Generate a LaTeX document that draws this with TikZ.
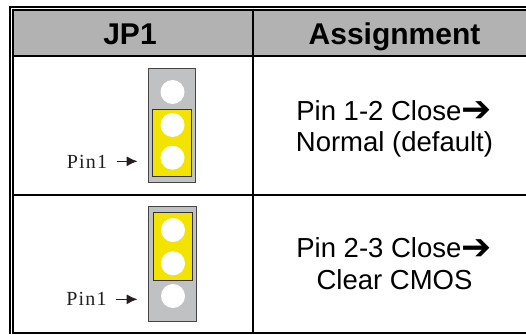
\documentclass[tikz,border=0pt]{standalone}
\usepackage{fontspec}
\usetikzlibrary{arrows.meta}
\setmainfont{Liberation Sans}
\newfontfamily\serifpin[LetterSpace=6]{Liberation Serif}
\newfontfamily\symfont{DejaVu Sans}
\newcommand{\heavyarrow}{{\symfont\bfseries\fontsize{36}{36}\selectfont\raisebox{-1.5pt}{➔}}}
\definecolor{hdr}{RGB}{178,178,178}
\definecolor{plate}{RGB}{192,193,195}
\definecolor{jump}{RGB}{242,228,0}
\definecolor{edge}{RGB}{70,70,70}
\definecolor{txt}{RGB}{35,31,32}
\tikzset{
  px/.style={x=1pt,y=-1pt},
  rule/.style={line width=2pt,black},
  hdrtext/.style={font=\fontsize{30}{34}\selectfont\bfseries,text=black,inner sep=0pt,anchor=base},
  bodytext/.style={font=\fontsize{27.5}{32}\selectfont,text=black,inner sep=0pt,anchor=base},
  pintext/.style={font=\serifpin\fontsize{20}{24}\selectfont,text=txt,inner sep=0pt,anchor=base},
  plateb/.style={draw=edge,line width=0.8pt,fill=plate},
  jumpb/.style={draw=black!80,line width=0.7pt,fill=jump},
  hole/.style={circle,fill=white,minimum size=24pt,inner sep=0pt},
  pinarrow/.style={-{Latex[length=11pt,width=10pt]},line width=1.6pt,txt}
}
\begin{document}
\begin{tikzpicture}[px]
\useasboundingbox (0,0) rectangle (526,334);
\fill[white] (0,0) rectangle (526,334);
\fill[hdr] (13,10) rectangle (526,55);
\draw[rule] (8.5,7) -- (526,7);
\draw[rule] (13,10) -- (526,10);
\draw[rule] (13,56) -- (526,56);
\draw[rule] (13,195) -- (526,195);
\draw[rule] (13,333) -- (526,333);
\draw[rule] (9.5,6) -- (9.5,334);
\draw[rule] (13,9) -- (13,334);
\draw[rule] (253,10) -- (253,334);
\node[hdrtext] (h1) at (130,45) {JP1};
\node[hdrtext] (h2) at (394.5,45) {Assignment};
\node[bodytext] (a1) at (394,120) {Pin 1-2 Close\heavyarrow};
\node[bodytext] (a2) at (394.5,151.7) {Normal (default)};
\node[bodytext] (b1) at (394,257.5) {Pin 2-3 Close\heavyarrow};
\node[bodytext] (b2) at (394.5,289.5) {Clear CMOS};
% top jumper
\draw[plateb] (148.5,68) rectangle (195.5,182.5);
\draw[jumpb] (152.7,109) rectangle (191,176.7);
\node[hole] (t1) at (172.5,92) {};
\node[hole] (t2) at (172.5,125) {};
\node[hole] (t3) at (172.5,157.7) {};
\node[pintext] (p1) at (87,168.3) {Pin1};
\coordinate (p1a) at (116.7,161.3);
\coordinate (p1b) at (137.7,161.3);
\draw[pinarrow] (p1a) -- (p1b);
% bottom jumper
\draw[plateb] (148.7,206) rectangle (196.7,321.7);
\draw[jumpb] (153.3,212.3) rectangle (192.3,280.7);
\node[hole] (u1) at (173,230) {};
\node[hole] (u2) at (173,263.3) {};
\node[hole] (u3) at (173,296) {};
\node[pintext] (p2) at (86.5,305.7) {Pin1};
\coordinate (p2a) at (116,299.3);
\coordinate (p2b) at (137.7,299.3);
\draw[pinarrow] (p2a) -- (p2b);
\end{tikzpicture}
\end{document}
